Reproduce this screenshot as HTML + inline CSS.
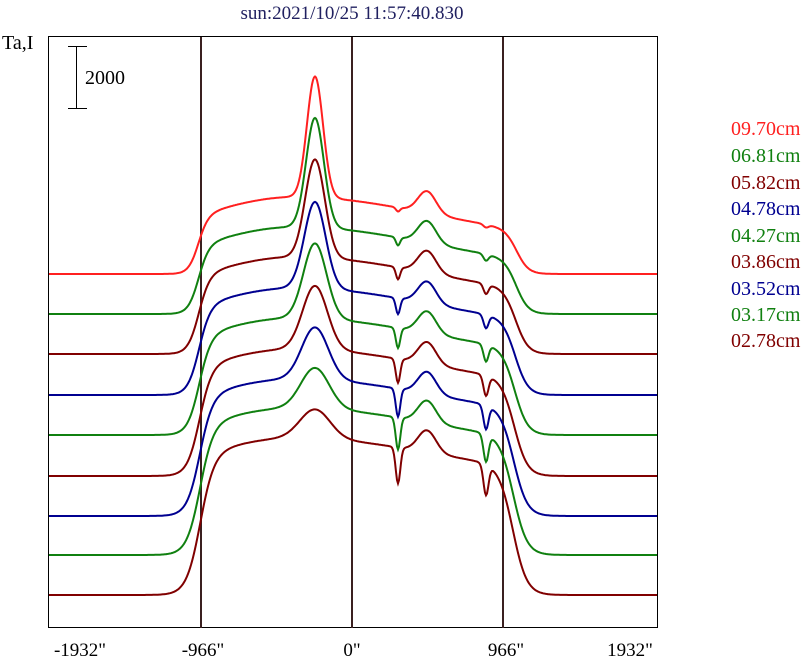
<!DOCTYPE html>
<html><head><meta charset="utf-8"><style>
body{margin:0;background:#fff;width:807px;height:662px;overflow:hidden}
svg{display:block;font-family:"Liberation Serif",serif}
</style></head><body>
<svg id="s" width="807" height="662" xmlns="http://www.w3.org/2000/svg">
<rect x="0" y="0" width="807" height="662" fill="#fff"/>
<text x="352" y="19" font-size="19" fill="#202060" text-anchor="middle">sun:2021/10/25 11:57:40.830</text>
<text x="2" y="49" font-size="20" fill="#000">Ta,I</text>
<rect x="48.5" y="36.5" width="609" height="591" fill="none" stroke="#000" stroke-width="1"/>
<line x1="201" y1="37" x2="201" y2="628" stroke="#3a2020" stroke-width="2"/>
<line x1="352" y1="37" x2="352" y2="628" stroke="#3a2020" stroke-width="2"/>
<line x1="503" y1="37" x2="503" y2="628" stroke="#3a2020" stroke-width="2"/>
<line x1="68" y1="46.5" x2="87" y2="46.5" stroke="#000"/>
<line x1="68" y1="108.5" x2="87" y2="108.5" stroke="#000"/>
<line x1="76.5" y1="46" x2="76.5" y2="109" stroke="#000"/>
<text x="85" y="84" font-size="20" fill="#000">2000</text>
<g font-size="19" text-anchor="middle" fill="#000">
<text x="80" y="656">-1932"</text><text x="203" y="656">-966"</text><text x="352" y="656">0"</text><text x="506" y="656">966"</text><text x="630" y="656">1932"</text>
</g>
<g id="curves" fill="none" stroke-width="2"></g>
<g font-size="20">
<text x="731" y="135" fill="#ff2020">09.70cm</text>
<text x="731" y="162" fill="#108010">06.81cm</text>
<text x="731" y="189" fill="#800000">05.82cm</text>
<text x="731" y="215" fill="#000090">04.78cm</text>
<text x="731" y="242" fill="#108010">04.27cm</text>
<text x="731" y="268" fill="#800000">03.86cm</text>
<text x="731" y="295" fill="#000090">03.52cm</text>
<text x="731" y="321" fill="#108010">03.17cm</text>
<text x="731" y="347" fill="#800000">02.78cm</text>
</g>
</svg>
<script>
var cols=["#ff2020","#108010","#800000","#000090","#108010","#800000","#000090","#108010","#800000"];
var bases=[274,314,354,395,435,476,516,555,595];
function sg(z){return 1/(1+Math.exp(-z));}
function g(x,c,s){return Math.exp(-(x-c)*(x-c)/(2*s*s));}
var out="";
for(var k=0;k<9;k++){
 var t=k/8,pts=[];
 var H=32+85*t;
 for(var x=49;x<=657;x++){
  var edge=sg((x-198-2*t)/(5+2*t))*sg((517-4*t-x)/(6+1*t));
  var hs=x<295?95:140;
  var disk=H*edge + (45-5*t)*g(x,295,hs)*edge;
  var v=disk+(121-92*t)*g(x,315,8+7*t)+(22)*g(x,427,9)*edge
   -(4+32*t)*g(x,398,2+0.3*t)*edge -(3+28*t)*g(x,486,2.5)*edge;
  pts.push(x+","+(bases[k]-v).toFixed(1));
 }
 out+='<polyline stroke="'+cols[k]+'" points="'+pts.join(" ")+'"/>';
}
document.getElementById("curves").innerHTML=out;
</script>
</body></html>
